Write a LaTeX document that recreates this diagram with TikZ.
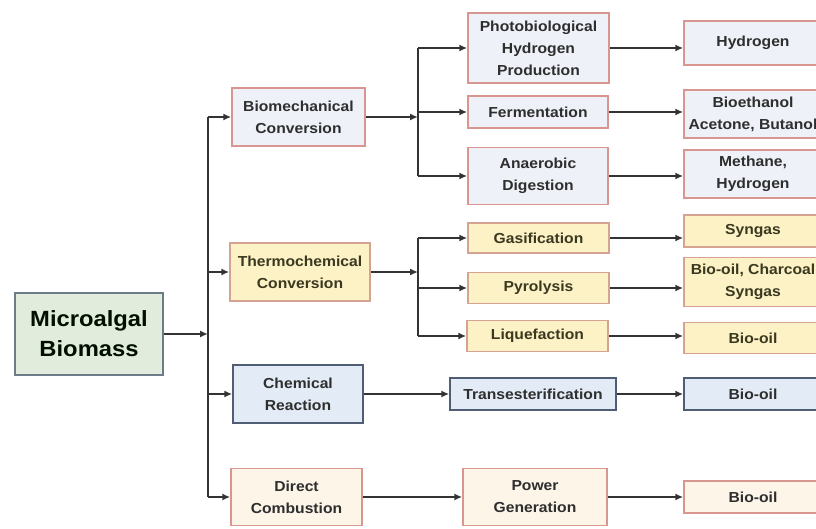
\documentclass[tikz,border=0pt]{standalone}
\usepackage{fontspec}
\setmainfont{Liberation Sans}[FakeStretch=1.08]
\usetikzlibrary{arrows.meta}
\definecolor{pinkb}{HTML}{D9958F}
\definecolor{pinkf}{HTML}{EEF1F7}
\definecolor{yelf}{HTML}{FDF1C6}
\definecolor{yelb}{HTML}{D6A291}
\definecolor{bluf}{HTML}{E3ECF6}
\definecolor{blub}{HTML}{4F5E74}
\definecolor{cremf}{HTML}{FCF5E8}
\definecolor{grnf}{HTML}{E1ECDC}
\definecolor{grnb}{HTML}{6C7C88}
\definecolor{txt}{HTML}{2E2E2E}
\definecolor{ytxt}{HTML}{3A3920}
\definecolor{lin}{HTML}{333333}
\begin{document}
\begin{tikzpicture}[x=1pt,y=-1pt,
  box/.style={draw, line width=1.5pt, align=center, inner sep=0pt,
    text=txt, font=\bfseries\fontsize{14.5}{22}\selectfont},
  pinkbox/.style={box, draw=pinkb, fill=pinkf},
  yelbox/.style={box, draw=yelb, fill=yelf, text=ytxt},
  blubox/.style={box, draw=blub, fill=bluf},
  crembox/.style={box, draw=pinkb, fill=cremf},
  grnbox/.style={box, draw=grnb, fill=grnf, text=black!85!green!40!black,
    font=\bfseries\fontsize{22}{30}\selectfont},
  wh/.style 2 args={minimum width=#1pt, minimum height=#2pt},
  conn/.style={draw=lin, line width=2pt},
  arr/.style={conn, -{Latex[length=8pt,width=7pt]}}
]
\useasboundingbox (0,0) rectangle (816,529);
\clip (0,0) rectangle (816,529);
\fill[white] (0,0) rectangle (816,529);

% column 0
\node[grnbox, wh={148}{82}] (mb) at (89,334) {Microalgal\\Biomass};

% column 1
\node[pinkbox, wh={133}{58}] (bc) at (298.5,117) {Biomechanical\\Conversion};
\node[yelbox, wh={140}{58}] (tc) at (300,272) {Thermochemical\\Conversion};
\node[blubox, wh={130}{58}] (cr) at (298,394) {Chemical\\Reaction};
\node[crembox, wh={131}{57}] (dc) at (296.5,497) {Direct\\Combustion};

% column 2
\node[pinkbox, wh={141}{70}] (ph) at (538.5,48) {Photobiological\\Hydrogen\\Production};
\node[pinkbox, wh={140}{32}] (fe) at (538,112) {Fermentation};
\node[pinkbox, wh={140}{57}] (ad) at (538,176) {Anaerobic\\Digestion};
\node[yelbox, wh={141}{30}] (ga) at (538.5,238) {Gasification};
\node[yelbox, wh={141}{31}] (py) at (538.5,288) {Pyrolysis};
\node[yelbox, wh={141}{31}] (lq) at (537.5,336) {Liquefaction};
\node[blubox, wh={166}{32}] (tr) at (533,394) {Transesterification};
\node[crembox, wh={144}{57}] (pg) at (535,497) {Power\\Generation};

% column 3
\node[pinkbox, wh={138}{44}] (hy) at (753,43) {Hydrogen};
\node[pinkbox, wh={138}{48}] (be) at (753,114) {Bioethanol\\Acetone, Butanol};
\node[pinkbox, wh={138}{48}] (me) at (753,174) {Methane,\\Hydrogen};
\node[yelbox, wh={138}{32}] (sy) at (753,231) {Syngas};
\node[yelbox, wh={138}{49}] (ch) at (753,282) {Bio-oil, Charcoal\\Syngas};
\node[yelbox, wh={138}{31}] (bo1) at (753,338) {Bio-oil};
\node[blubox, wh={138}{32}] (bo2) at (753,394) {Bio-oil};
\node[crembox, wh={138}{32}] (bo3) at (753,497) {Bio-oil};

% main trunk
\coordinate (T1) at (208,334);
\draw[arr] (mb.east) -- (T1);
\draw[conn] (T1 |- bc.west) -- (T1 |- dc.west);
\draw[arr] (T1 |- bc.west) -- (bc.west);
\draw[arr] (T1 |- tc.west) -- (tc.west);
\draw[arr] (T1 |- cr.west) -- (cr.west);
\draw[arr] (T1 |- dc.west) -- (dc.west);

% biomechanical trunk
\coordinate (T2) at (418,117);
\draw[arr] (bc.east) -- (T2);
\draw[conn] (T2 |- ph.west) -- (T2 |- ad.west);
\draw[arr] (T2 |- ph.west) -- (ph.west);
\draw[arr] (T2 |- fe.west) -- (fe.west);
\draw[arr] (T2 |- ad.west) -- (ad.west);

% thermochemical trunk
\coordinate (T3) at (418,272);
\draw[arr] (tc.east) -- (T3);
\draw[conn] (T3 |- ga.west) -- (T3 |- lq.west);
\draw[arr] (T3 |- ga.west) -- (ga.west);
\draw[arr] (T3 |- py.west) -- (py.west);
\draw[arr] (T3 |- lq.west) -- (lq.west);

% straight chains
\draw[arr] (cr.east) -- (tr.west);
\draw[arr] (dc.east) -- (pg.west);

% products
\draw[arr] (ph.east) -- (hy.west |- ph.east);
\draw[arr] (fe.east) -- (be.west |- fe.east);
\draw[arr] (ad.east) -- (me.west |- ad.east);
\draw[arr] (ga.east) -- (sy.west |- ga.east);
\draw[arr] (py.east) -- (ch.west |- py.east);
\draw[arr] (lq.east) -- (bo1.west |- lq.east);
\draw[arr] (tr.east) -- (bo2.west |- tr.east);
\draw[arr] (pg.east) -- (bo3.west |- pg.east);
\end{tikzpicture}
\end{document}
